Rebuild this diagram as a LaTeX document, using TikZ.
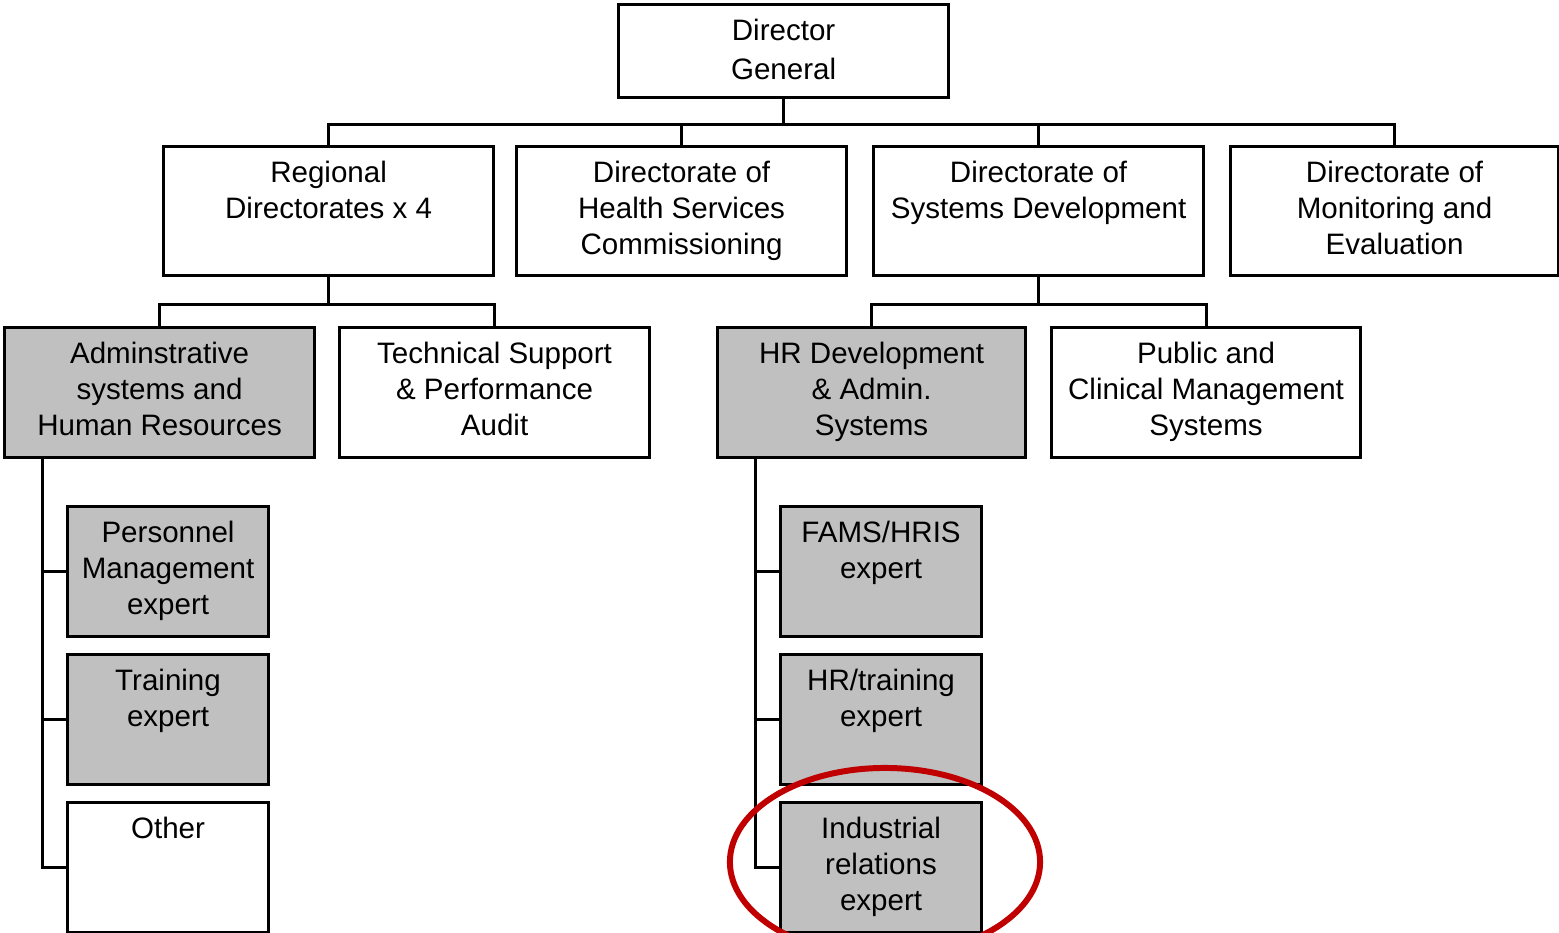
\documentclass[tikz,border=0pt]{standalone}
\usepackage{fontspec}
\setmainfont{Liberation Sans}
\usetikzlibrary{positioning}
\definecolor{boxgray}{HTML}{C0C0C0}
\definecolor{ringred}{HTML}{C00000}

\begin{document}
\begin{tikzpicture}[x=0.01cm, y=-0.01cm,
    orgbox/.style={rectangle, draw=black, line width=0.85pt, anchor=north west, minimum height=1.29cm, inner sep=0pt},
    widebox/.style={orgbox, minimum width=3.3cm},
    midbox/.style={orgbox, minimum width=3.1cm, minimum height=1.3cm},
    smallbox/.style={orgbox, minimum width=2.01cm, minimum height=1.3cm},
    greybox/.style={fill=boxgray},
    caption/.style={label={[anchor=north, align=center, yshift=-0.035cm, font=\fontsize{8.4}{10.2}\selectfont]north:#1}},
    link/.style={line width=0.85pt},
]
\useasboundingbox (0,0) rectangle (1559,932);

% top level
\node[widebox, minimum height=0.93cm, caption={Director\\[1pt]General}] (dg) at (617,3) {};
\node[widebox, caption={Regional\\Directorates x 4}] (reg) at (162,145) {};
\node[widebox, caption={Directorate of\\Health Services\\Commissioning}] (hsc) at (515,145) {};
\node[widebox, caption={Directorate of\\Systems Development}] (sysdev) at (872,145) {};
\node[widebox, minimum width=3.28cm, caption={Directorate of\\Monitoring and\\Evaluation}] (mne) at (1229,145) {};

% second level
\node[midbox, greybox, caption={Adminstrative\\systems and\\Human Resources}] (admin) at (3,326) {};
\node[midbox, caption={Technical Support\\\& Performance\\Audit}] (tech) at (338,326) {};
\node[midbox, greybox, minimum width=3.08cm, caption={HR Development\\\& Admin.\\Systems}] (hrdev) at (716,326) {};
\node[midbox, minimum width=3.09cm, caption={Public and\\Clinical Management\\Systems}] (pcm) at (1050,326) {};

% experts
\node[smallbox, greybox, caption={Personnel\\Management\\expert}] (pers) at (66,505) {};
\node[smallbox, greybox, caption={Training\\expert}] (train) at (66,653) {};
\node[smallbox, caption={Other}] (other) at (66,801) {};
\node[smallbox, greybox, caption={FAMS/HRIS\\expert}] (fams) at (779,505) {};
\node[smallbox, greybox, caption={HR/training\\expert}] (hrtrain) at (779,653) {};
\node[smallbox, greybox, caption={Industrial\\relations\\expert}] (indrel) at (779,801) {};

% connectors
\draw[link] (dg.south) -- ++(0,25) coordinate (topbus);
\draw[link] (reg.north) |- (topbus) -| (mne.north);
\draw[link] (hsc.north) |- (topbus);
\draw[link] (sysdev.north) |- (topbus);

\draw[link] (reg.south) -- ++(0,27) coordinate (regbus);
\draw[link] (admin.north) |- (regbus) -| (tech.north);
\draw[link] (sysdev.south) -- ++(0,27) coordinate (sysbus);
\draw[link] (hrdev.north) |- (sysbus) -| (pcm.north);

\draw[link] ([xshift=0.39cm]admin.south west) coordinate (adminstem) |- (other.west);
\draw[link] (pers.west) -- (pers.west -| adminstem);
\draw[link] (train.west) -- (train.west -| adminstem);

\draw[link] ([xshift=0.39cm]hrdev.south west) coordinate (hrstem) |- (indrel.west);
\draw[link] (fams.west) -- (fams.west -| hrstem);
\draw[link] (hrtrain.west) -- (hrtrain.west -| hrstem);

% highlight
\begin{scope}
\clip (0,0) rectangle (1559,932);
\draw[ringred, line width=1.7pt] (885,862) ellipse [x radius=1.55cm, y radius=0.94cm];
\end{scope}
\end{tikzpicture}
\end{document}
